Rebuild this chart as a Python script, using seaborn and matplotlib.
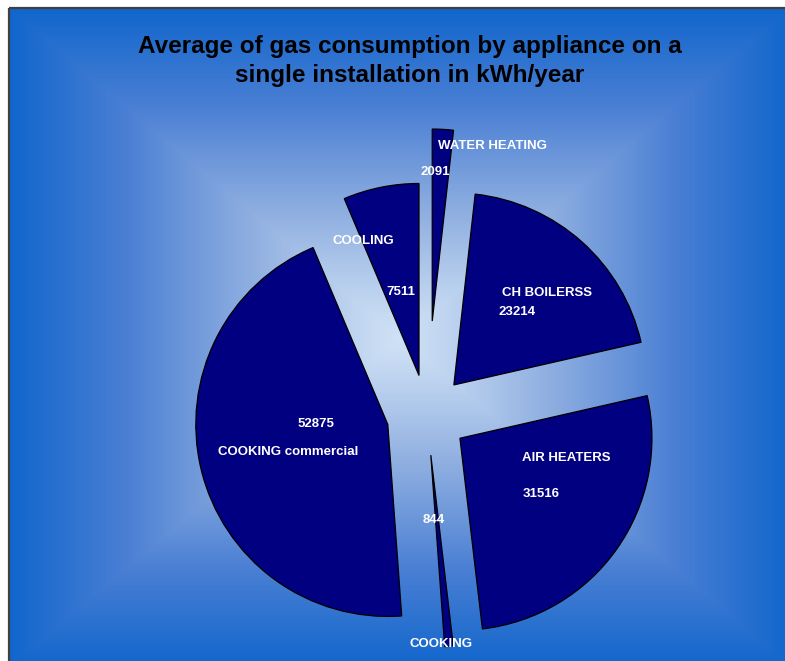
import numpy as np
import matplotlib
matplotlib.use("Agg")
import matplotlib.pyplot as plt
from matplotlib.colors import LinearSegmentedColormap
from matplotlib.patches import Rectangle
import seaborn as sns

# chart data
appliances = ["WATER HEATING", "CH BOILERSS", "AIR HEATERS", "COOKING",
              "COOKING commercial", "COOLING"]
consumption = [2091, 23214, 31516, 844, 52875, 7511]
title = "Average of gas consumption by appliance on a\nsingle installation in kWh/year"

# layout only (pixel positions of the hand-placed labels, explode amounts)
explode = [0.49, 0.21, 0.21, 0.21, 0.21, 0.21]
name_px = [(493, 146), (547, 293), (566, 458), (441, 644), (288, 452), (363, 241)]
value_px = [(435, 172), (517, 312), (541, 494), (434, 520), (316, 424), (401, 292)]

W, H, DPI = 785, 661, 100
R_PX = 192          # pie radius in pixels
CX, CY = 427, 415   # pie centre in pixels


def to_data(p):
    return (p[0] - CX) / R_PX, (CY - p[1]) / R_PX


sns.set_theme(style="white")
plt.rcParams["font.family"] = ["Liberation Sans", "DejaVu Sans"]

fig = plt.figure(figsize=(W / DPI, H / DPI), dpi=DPI)
fig.patch.set_facecolor("white")

# background: rectangular "from centre" gradient inside a dark frame
bg = fig.add_axes([0, 0, 1, 1])
bg.set_xlim(0, W)
bg.set_ylim(H, 0)
bg.axis("off")
x0, y0, x1, y1 = 9, 8, 792, 668
gx = np.linspace(x0, x1, 400)
gy = np.linspace(y0, y1, 340)
XX, YY = np.meshgrid(gx, gy)
hw, hh = (x1 - x0) / 2, (y1 - y0) / 2
t = np.maximum(np.abs(XX - (x0 + hw)) / hw, np.abs(YY - (y0 + hh)) / hh)
t = t ** 1.15
cmap = LinearSegmentedColormap.from_list("bg", ["#cfe1f5", "#8eaee0", "#4a7fd4", "#1166cc"])
bg.imshow(t, cmap=cmap, vmin=0, vmax=1, extent=(x0, x1, y1, y0),
          interpolation="bilinear", aspect="auto", zorder=0)
bg.add_patch(Rectangle((x0, y0), x1 - x0, y1 - y0, fill=False,
                       edgecolor="#404040", linewidth=1.6, zorder=1))

# pie
ax = fig.add_axes([0, 0, 1, 1])
ax.patch.set_alpha(0)
ax.pie(consumption, explode=explode, startangle=90, counterclock=False,
       colors=["#000080"] * len(consumption), radius=1,
       wedgeprops=dict(edgecolor="black", linewidth=0.9))
ax.set_xlim((0 - CX) / R_PX, (W - CX) / R_PX)
ax.set_ylim((CY - H) / R_PX, CY / R_PX)
ax.set_aspect("equal")
ax.axis("off")

for name, val, npos, vpos in zip(appliances, consumption, name_px, value_px):
    ax.text(*to_data(npos), name, ha="center", va="center", color="white",
            fontsize=9.5, fontweight="bold")
    ax.text(*to_data(vpos), str(val), ha="center", va="center", color="white",
            fontsize=9.5, fontweight="bold")

fig.text(410 / W, 1 - 61 / H, title, ha="center", va="center", fontsize=17.5,
         fontweight="bold", color="black", linespacing=1.3)

fig.savefig("out.png", dpi=DPI)
